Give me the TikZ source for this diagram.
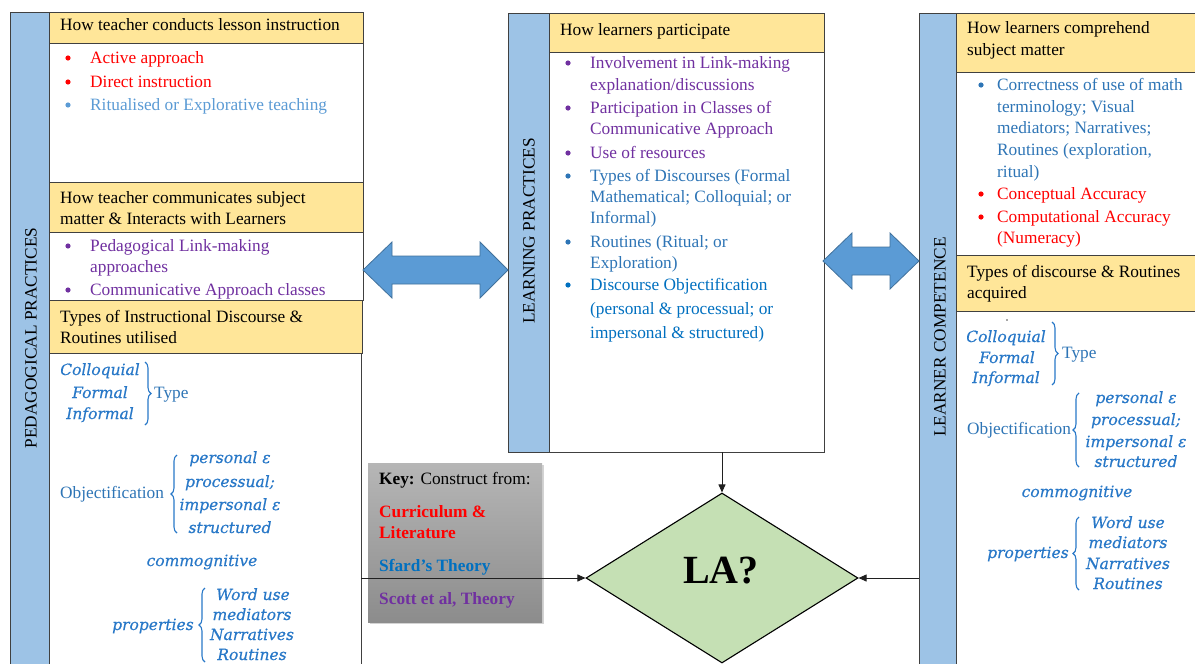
\documentclass[tikz,border=0pt]{standalone}
\usepackage{fontspec}
\setmainfont{Liberation Serif}
\newfontfamily\mitf[ItalicFeatures={FakeBold=0.35}]{DejaVu Serif}
\usetikzlibrary{shapes.geometric,decorations.pathreplacing,shadows,arrows.meta,fit}
\definecolor{hdrc}{HTML}{FFE699}
\definecolor{stripc}{HTML}{9DC3E6}
\definecolor{edge}{HTML}{404040}
\definecolor{redc}{HTML}{FF0000}
\definecolor{lblue}{HTML}{5B9BD5}
\definecolor{purp}{HTML}{7030A0}
\definecolor{mblue}{HTML}{2E75B6}
\definecolor{dblue}{HTML}{0070C0}
\definecolor{mathc}{RGB}{40,120,200}
\definecolor{arrc}{HTML}{5B9BD5}
\definecolor{arrd}{HTML}{41719C}
\definecolor{diac}{HTML}{C5E0B4}
\definecolor{connc}{HTML}{202020}
\tikzset{
  hdr/.style={draw=edge, fill=hdrc, line width=0.8pt, inner sep=0pt},
  wbox/.style={draw=edge, fill=white, line width=0.8pt, inner sep=0pt},
  strip/.style={draw=edge, fill=stripc, line width=0.8pt, inner sep=0pt},
  tl/.style={anchor=base west, inner sep=0pt, font=\fontsize{17.3}{22}\selectfont},
  rl/.style={inner sep=0pt, rotate=90, font=\fontsize{17.3}{22}\selectfont},
  mt/.style={anchor=base, inner sep=0pt, font=\mitf\itshape\fontsize{15.5}{20}\selectfont, text=mathc},
  mtw/.style={anchor=base west, inner sep=0pt, font=\mitf\itshape\fontsize{15.5}{20}\selectfont, text=mathc},
  brc/.style={decorate, decoration={brace, amplitude=6pt}, draw=mathc, line width=1.1pt},
  conn/.style={draw=connc, line width=0.9pt, -{Triangle[length=8pt,width=7pt]}},
  dbl/.style={fill=arrc, draw=arrd, line width=0.8pt},
  keyb/.style={inner sep=0pt, top color={rgb,255:red,182;green,182;blue,182}, bottom color={rgb,255:red,140;green,140;blue,140}, drop shadow={shadow xshift=2pt, shadow yshift=-2pt, opacity=0.35}},
}
\begin{document}
\begin{tikzpicture}[x=1pt,y=-1pt]
\useasboundingbox (0,0) rectangle (1195,664);
% ---------- LEFT COLUMN ----------
\node[strip, fit={(10,12) (49,668)}] (lstrip) {};
\node[rl] (lstriptxt) at (31,338) {PEDAGOGICAL PRACTICES};
\node[hdr, fit={(49,12) (363,43)}] (lh1) {};
\node[wbox, fit={(49,43) (363,182)}] (lb1) {};
\node[hdr, fit={(49,182) (363,232)}] (lh2) {};
\node[wbox, fit={(49,232) (363,300)}] (lb2) {};
\node[hdr, fit={(49,300) (362,353)}] (lh3) {};
\node[wbox, fit={(49,353) (361,668)}] (lb3) {};

\node[tl] (lh1t) at (60,30) {How teacher conducts lesson instruction};
\fill[redc] (68,58) circle (2.6pt);
\node[tl, text=redc] (la1) at (90,63) {Active approach};
\fill[redc] (68,82) circle (2.6pt);
\node[tl, text=redc] (la2) at (90,87) {Direct instruction};
\fill[lblue] (68,105) circle (2.6pt);
\node[tl, text=lblue] (la3) at (90,110) {Ritualised or Explorative teaching};

\node[tl] (lh2t1) at (60,203) {How teacher communicates subject};
\node[tl] (lh2t2) at (60,224) {matter \& Interacts with Learners};
\fill[purp] (68,246) circle (2.6pt);
\node[tl, text=purp] (lb2a) at (90,251) {Pedagogical Link-making};
\node[tl, text=purp] (lb2b) at (90,272) {approaches};
\fill[purp] (68,290) circle (2.6pt);
\node[tl, text=purp] (lb2c) at (90,295) {Communicative Approach classes};

\node[tl] (lh3t1) at (60,322) {Types of Instructional Discourse \&};
\node[tl] (lh3t2) at (60,343) {Routines utilised};

\node[mt] (lm1) at (100,375) {Colloquial};
\node[mt] (lm2) at (100,398) {Formal};
\node[mt] (lm3) at (100,419) {Informal};
\draw[brc] (145,362) -- (145,425);
\node[tl, text=mblue] (ltype) at (154,398) {Type};

\node[tl, text=mblue] (lobj) at (60,498) {Objectification};
\draw[brc] (177,533) -- (177,455);
\node[mt] (lo1) at (230,463) {personal ε};
\node[mt] (lo2) at (230,487) {processual;};
\node[mt] (lo3) at (230,510) {impersonal ε};
\node[mt] (lo4) at (230,533) {structured};

\node[mt] (lcom) at (202,566) {commognitive};

\node[mtw] (lprop) at (112,630) {properties};
\draw[brc] (205,662) -- (205,588);
\node[mt] (lp1) at (253,600) {Word use};
\node[mt] (lp2) at (252,620) {mediators};
\node[mt] (lp3) at (252,640) {Narratives};
\node[mt] (lp4) at (252,660) {Routines};

% ---------- CENTER COLUMN ----------
\node[strip, fit={(508,13) (549,452)}] (cstrip) {};
\node[rl] (cstriptxt) at (529,231) {LEARNING PRACTICES};
\node[hdr, fit={(549,13) (824,52)}] (ch) {};
\node[wbox, fit={(549,52) (824,452)}] (cb) {};
\node[tl] (cht) at (560,35) {How learners participate};
\fill[purp] (568,63) circle (2.6pt);
\node[tl, text=purp] (c1) at (590,68) {Involvement in Link-making};
\node[tl, text=purp] (c2) at (590,90) {explanation/discussions};
\fill[purp] (568,108) circle (2.6pt);
\node[tl, text=purp] (c3) at (590,113) {Participation in Classes of};
\node[tl, text=purp] (c4) at (590,134) {Communicative Approach};
\fill[purp] (568,153) circle (2.6pt);
\node[tl, text=purp] (c5) at (590,158) {Use of resources};
\fill[mblue] (568,176) circle (2.6pt);
\node[tl, text=mblue] (c6) at (590,181) {Types of Discourses (Formal};
\node[tl, text=mblue] (c7) at (590,202) {Mathematical; Colloquial; or};
\node[tl, text=mblue] (c8) at (590,223) {Informal)};
\fill[mblue] (568,242) circle (2.6pt);
\node[tl, text=mblue] (c9) at (590,247) {Routines (Ritual; or};
\node[tl, text=mblue] (c10) at (590,268) {Exploration)};
\fill[dblue] (568,285) circle (2.6pt);
\node[tl, text=dblue] (c11) at (590,290) {Discourse Objectification};
\node[tl, text=dblue] (c12) at (590,314) {(personal \& processual; or};
\node[tl, text=dblue] (c13) at (590,338) {impersonal \& structured)};

% ---------- RIGHT COLUMN ----------
\node[strip, fit={(919,13) (956,668)}] (rstrip) {};
\node[rl] (rstriptxt) at (940,337) {LEARNER COMPETENCE};
\node[hdr, fit={(956,13) (1200,72)}] (rh1) {};
\node[wbox, fit={(956,72) (1200,255)}] (rb1) {};
\node[hdr, fit={(956,255) (1200,311)}] (rh2) {};
\node[wbox, fit={(956,311) (1200,668)}] (rb2) {};
\node[tl] (rh1t1) at (967,33) {How learners comprehend};
\node[tl] (rh1t2) at (967,55) {subject matter};
\fill[mblue] (981,85) circle (2.6pt);
\node[tl, text=mblue] (r1) at (997,90) {Correctness of use of math};
\node[tl, text=mblue] (r2) at (997,112) {terminology; Visual};
\node[tl, text=mblue] (r3) at (997,133) {mediators; Narratives;};
\node[tl, text=mblue] (r4) at (997,155) {Routines (exploration,};
\node[tl, text=mblue] (r5) at (997,177) {ritual)};
\fill[redc] (981,194) circle (2.6pt);
\node[tl, text=redc] (r6) at (997,199) {Conceptual Accuracy};
\fill[redc] (981,217) circle (2.6pt);
\node[tl, text=redc] (r7) at (997,222) {Computational Accuracy};
\node[tl, text=redc] (r8) at (997,243) {(Numeracy)};
\node[tl] (rh2t1) at (967,277) {Types of discourse \& Routines};
\node[tl] (rh2t2) at (967,298) {acquired};

\fill[black!70] (1007,320) circle (0.8pt);
\node[mt] (rm1) at (1006,342) {Colloquial};
\node[mt] (rm2) at (1007,363) {Formal};
\node[mt] (rm3) at (1006,383) {Informal};
\draw[brc] (1052,322) -- (1052,385);
\node[tl, text=mblue] (rtype) at (1062,358) {Type};

\node[tl, text=mblue] (robj) at (967,434) {Objectification};
\draw[brc] (1079,467) -- (1079,393);
\node[mt] (ro1) at (1136,403) {personal ε};
\node[mt] (ro2) at (1136,425) {processual;};
\node[mt] (ro3) at (1136,447) {impersonal ε};
\node[mt] (ro4) at (1136,467) {structured};

\node[mt] (rcom) at (1077,497) {commognitive};

\node[mtw] (rprop) at (987,558) {properties};
\draw[brc] (1079,590) -- (1079,517);
\node[mt] (rp1) at (1128,528) {Word use};
\node[mt] (rp2) at (1128,548) {mediators};
\node[mt] (rp3) at (1128,569) {Narratives};
\node[mt] (rp4) at (1128,589) {Routines};

% ---------- DOUBLE ARROWS ----------
\path[dbl] (363,270) -- (392,242) -- (392,256) -- (480,256) -- (480,242) -- (508,270)
  -- (480,298) -- (480,284) -- (392,284) -- (392,298) -- cycle;
\path[dbl] (823,261) -- (852,233) -- (852,247) -- (890,247) -- (890,233) -- (919,261)
  -- (890,289) -- (890,275) -- (852,275) -- (852,289) -- cycle;

% ---------- KEY ----------
\node[keyb, fit={(368,463) (542,622)}] (key) {};
\node[tl] (k1) at (379,484) {\textbf{Key:} Construct from:};
\node[tl, text=redc, font=\fontsize{17.3}{22}\selectfont\bfseries] (k2) at (379,517) {Curriculum \&};
\node[tl, text=redc, font=\fontsize{17.3}{22}\selectfont\bfseries] (k3) at (379,538) {Literature};
\node[tl, text=dblue, font=\fontsize{17.3}{22}\selectfont\bfseries] (k4) at (379,571) {Sfard’s Theory};
\node[tl, text=purp, font=\fontsize{17.3}{22}\selectfont\bfseries] (k5) at (379,604) {Scott et al, Theory};

% ---------- DIAMOND ----------
\node[diamond, draw=black, fill=diac, line width=1.1pt, inner sep=0pt, minimum width=272pt, minimum height=170pt] (LA) at (722,578) {};
\node[inner sep=0pt, font=\fontsize{40}{40}\selectfont\bfseries] (LAt) at (721,571) {LA?};

% ---------- CONNECTORS ----------
\draw[conn] (lb3.east |- LA.west) -- (LA.west);
\draw[conn] (rstrip.west |- LA.east) -- (LA.east);
\draw[conn] (cb.south -| LA.north) -- (LA.north);
\end{tikzpicture}
\end{document}
